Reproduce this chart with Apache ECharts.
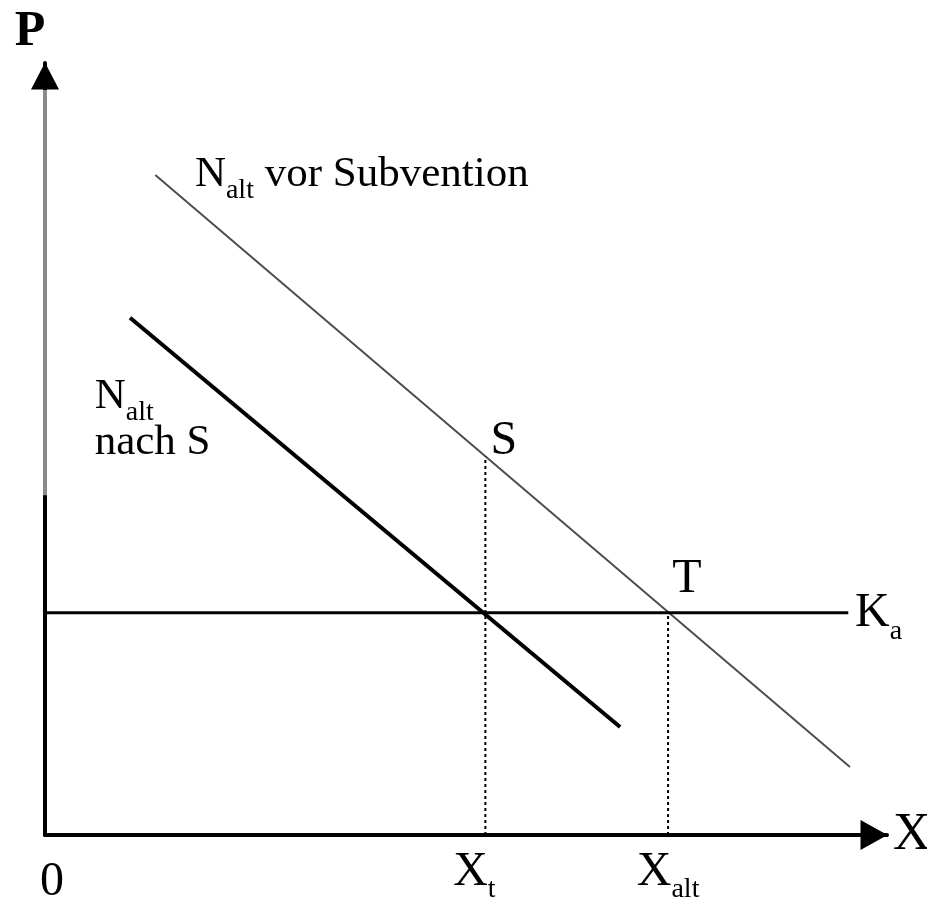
<!DOCTYPE html>
<html style="height: 100%">
<head>
    <meta charset="utf-8">
    <script src="https://cdn.jsdelivr.net/npm/echarts@6/dist/echarts.min.js"></script>
</head>
<body style="height: 100%; margin: 0; background: #fff">
    <div id="main" style="width: 927px; height: 899px;"></div>
    <script type="text/javascript">
    // 数据（坐标单位：x 0-100, y 0-100）
    var nVor = [[13.1, 85.5], [95.6, 8.8]];          // N_alt vor Subvention
    var nNach = [[10.1, 67.0], [68.3, 14.0]];        // N_alt nach S
    var kLevel = 28.8;
    var kLine = [[0, kLevel], [95.4, kLevel]];
    var xT = 52.3, xAlt = 74.0;
    var sLevel = 49.0;
    var dropT = [[xT, 0], [xT, sLevel]];
    var dropAlt = [[xAlt, 0], [xAlt, kLevel]];
    var axisGray = [[0, 44.0], [0, 96.5]];
    var tickValues = [0, xT, xAlt];
    var tickLabels = ['{z|0}', '{x|X}{st|t}', '{x|X}{s|alt}'];
    var notes = [
        { value: [17.8, 85.0], text: '{b|N}{s|alt}{b| vor Subvention}' },
        { value: [5.9, 56.2], text: '{b|N}{s|alt}' },
        { value: [5.9, 50.3], text: '{b|nach S}' },
        { value: [52.9, 50.5], text: '{c|S}' },
        { value: [74.5, 32.6], text: '{c|T}' },
        { value: [96.2, 28.2], text: '{c|K}{s|a}' }
    ];

    var font = 'Liberation Serif';
    var rich = {
        b: { fontFamily: font, fontSize: 43, color: '#000', padding: [0, 0, 8, 0], verticalAlign: 'bottom' },
        c: { fontFamily: font, fontSize: 48, color: '#000', padding: [0, 0, 8, 0], verticalAlign: 'bottom' },
        s: { fontFamily: font, fontSize: 28, color: '#000', verticalAlign: 'bottom' },
        st: { fontFamily: font, fontSize: 28, color: '#000', verticalAlign: 'bottom', padding: [0, 22, 0, 0] },
        x: { fontFamily: font, fontSize: 48, color: '#000', padding: [0, 0, 8, 0], verticalAlign: 'bottom' },
        z: { fontFamily: font, fontSize: 48, color: '#000', padding: [10, 0, 0, 14] }
    };

    var myChart = echarts.init(document.getElementById('main'));
    var option = {
        animation: false,
        grid: { left: 45, right: 40, top: 63, bottom: 64, outerBoundsMode: 'none' },
        xAxis: {
            type: 'value', min: 0, max: 100,
            name: 'X', nameLocation: 'end', nameGap: 6,
            nameTextStyle: { fontFamily: font, fontSize: 52, color: '#000' },
            axisLine: {
                show: true, symbol: ['none', 'triangle'], symbolSize: [30, 27], symbolOffset: [0, -13],
                lineStyle: { color: '#000', width: 4 }
            },
            axisTick: { show: false },
            splitLine: { show: false },
            axisLabel: {
                customValues: tickValues,
                margin: 13,
                formatter: function(v) {
                    var i = tickValues.indexOf(v);
                    return i >= 0 ? tickLabels[i] : '';
                },
                rich: rich
            }
        },
        yAxis: {
            type: 'value', min: 0, max: 100,
            name: 'P', nameLocation: 'end', nameGap: 6,
            nameTextStyle: { fontFamily: font, fontSize: 50, fontWeight: 'bold', color: '#000', padding: [0, 30, 0, 0] },
            axisLine: {
                show: true, symbol: ['none', 'triangle'], symbolSize: [28, 27], symbolOffset: [0, -13],
                lineStyle: { color: '#000', width: 4 }
            },
            axisTick: { show: false },
            splitLine: { show: false },
            axisLabel: { show: false }
        },
        series: [{
            type: 'line', data: axisGray, symbol: 'none', silent: true,
            lineStyle: { color: '#8a8a8a', width: 4 }
        }, {
            type: 'line', data: nVor, symbol: 'none', silent: true,
            lineStyle: { color: '#4d4d4d', width: 2 }
        }, {
            type: 'line', data: nNach, symbol: 'none', silent: true,
            lineStyle: { color: '#000', width: 4 }
        }, {
            type: 'line', data: kLine, symbol: 'none', silent: true,
            lineStyle: { color: '#000', width: 3 }
        }, {
            type: 'line', data: dropT, symbol: 'none', silent: true,
            lineStyle: { color: '#000', width: 2, type: [3, 3] }
        }, {
            type: 'line', data: dropAlt, symbol: 'none', silent: true,
            lineStyle: { color: '#000', width: 2, type: [3, 3] }
        }, {
            type: 'scatter', symbolSize: 0, silent: true, clip: false,
            itemStyle: { opacity: 1 },
            data: notes.map(function(n) { return { value: n.value, label: { formatter: n.text } }; }),
            label: { show: true, position: 'right', distance: 0, color: '#000', rich: rich }
        }]
    };
    myChart.setOption(option);
    </script>
</body>
</html>
